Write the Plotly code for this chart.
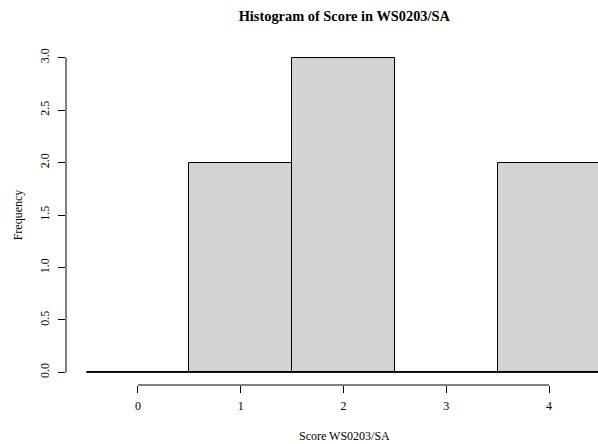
import plotly.graph_objects as go

# Data
bin_centers = [0, 1, 2, 3, 4]
frequencies = [0, 2, 3, 0, 2]
bin_edges = [-0.5, 0.5, 1.5, 2.5, 3.5, 4.5]
x_ticks = [0, 1, 2, 3, 4]
y_ticks = [0.0, 0.5, 1.0, 1.5, 2.0, 2.5, 3.0]
y_tick_labels = ["0.0", "0.5", "1.0", "1.5", "2.0", "2.5", "3.0"]

FONT = "Liberation Serif, Times New Roman, serif"

W, H = 598, 444
L, R, T, B = 66, 0, 45, 59

fig = go.Figure()
fig.add_trace(go.Bar(
    x=bin_centers, y=frequencies, width=1,
    marker=dict(color="#D3D3D3", line=dict(color="black", width=1)),
    hoverinfo="skip", showlegend=False,
))
# baseline of the (possibly empty) histogram cells
fig.add_trace(go.Scatter(
    x=[bin_edges[0], bin_edges[-1]], y=[0, 0], mode="lines",
    line=dict(color="black", width=1), hoverinfo="skip", showlegend=False,
))

plot_w = W - L - R
plot_h = H - T - B

fig.update_layout(
    width=W, height=H,
    margin=dict(l=L, r=R, t=T, b=B),
    paper_bgcolor="white", plot_bgcolor="white",
    font=dict(family=FONT, color="black", size=12),
    bargap=0,
    title=dict(text="<b>Histogram of Score in WS0203/SA</b>",
               x=344.3/W, xanchor="center", y=1-15.5/H, yanchor="middle",
               font=dict(family=FONT, size=14.4, color="black")),
    xaxis=dict(range=[-0.7, (598-138.3)/102.7], tickmode="array",
               tickvals=x_ticks, ticktext=[str(v) for v in x_ticks],
               ticks="outside", ticklen=7, tickcolor="black", tickwidth=1,
               ticklabelstandoff=3,
               showgrid=False, zeroline=False, showline=False,
               tickfont=dict(family=FONT, size=12, color="black")),
    yaxis=dict(range=[-0.12, 3.12], tickmode="array",
               tickvals=y_ticks, ticktext=y_tick_labels, tickangle=-90,
               ticks="outside", ticklen=7, tickcolor="black", tickwidth=1,
               ticklabelstandoff=4,
               showgrid=False, zeroline=False, showline=False,
               tickfont=dict(family=FONT, size=12, color="black"),
               title=dict(text="Frequency", standoff=13,
                          font=dict(family=FONT, size=12))),
    annotations=[
        dict(text="Score WS0203/SA", xref="paper", yref="paper",
             x=(344.5 - L) / plot_w, y=-(435.5 - (T + plot_h)) / plot_h,
             xanchor="center", yanchor="middle", showarrow=False,
             font=dict(family=FONT, size=12, color="black")),
    ],
    shapes=[
        dict(type="line", xref="x", yref="paper", x0=x_ticks[0], x1=x_ticks[-1],
             y0=0, y1=0, line=dict(color="black", width=1)),
        dict(type="line", xref="paper", yref="y", x0=0, x1=0,
             y0=y_ticks[0], y1=y_ticks[-1], line=dict(color="black", width=1)),
    ],
)

fig.write_html("out.html", config={"displayModeBar": False},
               post_script="document.body.style.margin='0';")
